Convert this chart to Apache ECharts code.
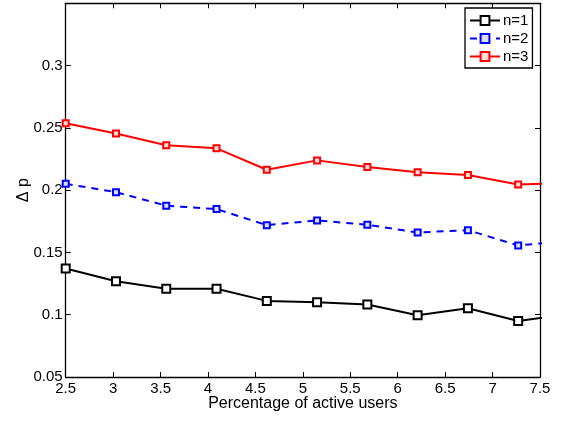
<!DOCTYPE html>
<html>
<head>
<meta charset="utf-8">
<script src="https://cdn.jsdelivr.net/npm/echarts@6/dist/echarts.min.js"></script>
<style>
  html, body { margin: 0; padding: 0; background: #fff; }
  #chart { width: 562px; height: 423px; }
</style>
</head>
<body>
<div id="chart"></div>
<script>
// Percentage of active users (last point runs past the axis limit and is clipped)
const activeUsers = [2.5, 3.03, 3.56, 4.09, 4.62, 5.15, 5.68, 6.21, 6.74, 7.27, 7.80];

// Delta p for each n
const n1 = [0.1371, 0.1269, 0.1208, 0.1208, 0.1111, 0.1100, 0.1082, 0.0996, 0.1052, 0.0950, 0.1005];
const n2 = [0.2051, 0.1984, 0.1875, 0.1848, 0.1719, 0.1757, 0.1722, 0.1660, 0.1679, 0.1556, 0.1593];
const n3 = [0.2537, 0.2454, 0.2360, 0.2336, 0.2164, 0.2239, 0.2186, 0.2143, 0.2121, 0.2046, 0.2057];

const seriesNames = ['n=1', 'n=2', 'n=3'];
const xTicks = { min: 2.5, max: 7.5, interval: 0.5 };
const yTicks = { min: 0.05, max: 0.35, interval: 0.05 };

const FONT = 'Liberation Sans';

function pairs(ys) {
  return activeUsers.map((x, i) => [x, ys[i]]);
}

const tickStyle = { show: true, inside: true, length: 5, lineStyle: { color: '#000', width: 1 } };
const lineAxis = { show: true, onZero: false, lineStyle: { color: '#000', width: 1.3 } };

const chart = echarts.init(document.getElementById('chart'), null, { renderer: 'canvas' });

chart.setOption({
  animation: false,
  backgroundColor: '#fff',
  textStyle: { fontFamily: FONT },
  grid: { left: 65.7, right: 22, top: 3.3, bottom: 46, containLabel: false },
  legend: {
    data: seriesNames,
    orient: 'vertical',
    left: 465,
    top: 8,
    width: 69,
    padding: [5, 4, 4, 4],
    itemGap: 3,
    itemWidth: 30,
    itemHeight: 11,
    backgroundColor: '#fff',
    borderColor: '#000',
    borderWidth: 1.3,
    borderRadius: 0,
    textStyle: { fontFamily: FONT, fontSize: 15, color: '#000', padding: [0, 0, 0, -2] }
  },
  xAxis: [
    {
      type: 'value',
      min: xTicks.min, max: xTicks.max, interval: xTicks.interval,
      name: 'Percentage of active users',
      nameLocation: 'middle',
      nameGap: 19,
      nameMoveOverlap: false,
      nameTextStyle: { fontFamily: FONT, fontSize: 16, color: '#000' },
      axisLine: lineAxis,
      axisTick: tickStyle,
      splitLine: { show: false },
      axisLabel: { fontFamily: FONT, fontSize: 15, color: '#000', margin: 4 }
    },
    {
      type: 'value', position: 'top',
      min: xTicks.min, max: xTicks.max, interval: xTicks.interval,
      axisLine: lineAxis,
      axisTick: tickStyle,
      splitLine: { show: false },
      axisLabel: { show: false }
    }
  ],
  yAxis: [
    {
      type: 'value',
      min: yTicks.min, max: yTicks.max, interval: yTicks.interval,
      name: 'Δ p',
      nameLocation: 'middle',
      nameGap: 34,
      nameMoveOverlap: false,
      nameTextStyle: { fontFamily: FONT, fontSize: 16, color: '#000' },
      axisLine: lineAxis,
      axisTick: tickStyle,
      splitLine: { show: false },
      axisLabel: { fontFamily: FONT, fontSize: 15, color: '#000', margin: 3, showMaxLabel: false }
    },
    {
      type: 'value', position: 'right',
      min: yTicks.min, max: yTicks.max, interval: yTicks.interval,
      axisLine: lineAxis,
      axisTick: tickStyle,
      splitLine: { show: false },
      axisLabel: { show: false }
    }
  ],
  series: [
    {
      name: seriesNames[0], type: 'line', data: pairs(n1), clip: true,
      symbol: 'rect', symbolSize: 8,
      itemStyle: { color: '#fff', borderColor: '#000', borderWidth: 2 },
      lineStyle: { color: '#000', width: 2 },
      color: '#000'
    },
    {
      name: seriesNames[1], type: 'line', data: pairs(n2), clip: true,
      symbol: 'rect', symbolSize: 6,
      itemStyle: { color: '#dde0ff', borderColor: '#0000ff', borderWidth: 2 },
      lineStyle: { color: '#0000ff', width: 2, type: [7, 6] },
      color: '#0000ff'
    },
    {
      name: seriesNames[2], type: 'line', data: pairs(n3), clip: true,
      symbol: 'rect', symbolSize: 6,
      itemStyle: { color: '#ffdede', borderColor: '#ff0000', borderWidth: 2 },
      lineStyle: { color: '#ff0000', width: 2 },
      color: '#ff0000'
    }
  ]
});
</script>
</body>
</html>
